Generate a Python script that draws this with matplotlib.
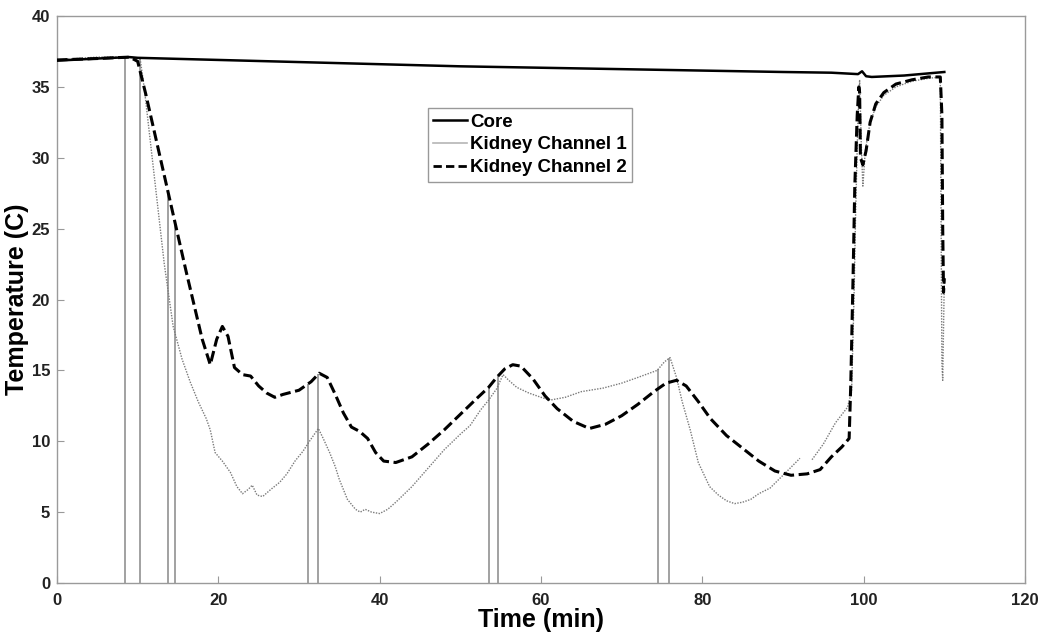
import numpy as np
import matplotlib
matplotlib.use("Agg")
import matplotlib.pyplot as plt
from matplotlib.lines import Line2D

# ---------------- data ----------------
core_t = [0, 5, 9, 10, 20, 30, 40, 50, 60, 70, 80, 90, 96, 99.3, 99.8, 100.3, 101, 105, 110]
core_v = [36.85, 37.0, 37.1, 37.05, 36.9, 36.75, 36.6, 36.45, 36.35, 36.25, 36.15, 36.05, 36.0,
          35.9, 36.1, 35.75, 35.7, 35.8, 36.05]

ch2_t = [0, 5, 9, 10, 11, 12, 13, 14, 15, 16, 17, 18, 19, 19.8, 20.5, 21.2, 22, 23, 24, 25, 26, 27,
         28, 30, 31.5, 32.5, 33.5, 34.5, 35.5, 36.5, 37.5, 38.5, 39.5, 40.5, 42, 44, 46, 48, 50, 52,
         53.5, 54.5, 55.5, 56.5, 57.5, 59, 60.5, 62, 64, 66, 68, 70, 72, 74, 75.5, 76.8, 78, 79.5,
         81, 83, 85, 87, 89, 91, 93, 94.6, 96, 97.3, 98.2, 98.4, 98.7, 98.9, 99.2, 99.4, 99.5, 99.6,
         99.9, 100.3, 100.8, 101.5, 102.5, 104, 106, 108, 109.5, 109.7, 109.8, 109.9, 110]
ch2_v = [36.9, 37.0, 37.1, 36.8, 34.5, 32.0, 29.5, 27.0, 24.5, 22.0, 19.6, 17.2, 15.4, 17.2, 18.1,
         17.4, 15.2, 14.7, 14.6, 13.9, 13.4, 13.1, 13.3, 13.6, 14.2, 14.8, 14.5, 13.3, 12.0, 11.0,
         10.7, 10.2, 9.2, 8.6, 8.5, 8.9, 9.8, 10.8, 11.9, 13.0, 13.8, 14.5, 15.1, 15.4, 15.3, 14.4,
         13.2, 12.3, 11.4, 10.9, 11.2, 11.8, 12.6, 13.5, 14.1, 14.3, 13.9, 12.8, 11.6, 10.4, 9.5,
         8.6, 7.9, 7.6, 7.7, 8.0, 8.9, 9.6, 10.2, 14.0, 22.0, 28.0, 33.0, 35.0, 34.6, 30.0, 29.5,
         30.5, 32.5, 33.8, 34.6, 35.2, 35.5, 35.7, 35.7, 33.0, 25.0, 20.5, 21.5]

ch1_t = [0, 5, 9, 10.3, 10.8, 11.5, 12.4, 13.3, 14.4, 15.5, 16.5, 17.5, 18.5, 19, 19.6, 20.5, 21.5,
         22.3, 23, 23.7, 24.2, 24.8, 25.5, 26.5, 27.6, 28.5, 29.5, 30.5, 31.3, 32.4, 33, 33.8, 34.5,
         35, 36, 37, 37.6, 38.2, 39, 40, 41, 42, 44, 46, 48, 50, 51.2, 52.5, 53.5, 54.5, 55.3, 56,
         57, 58.5, 60, 61.1, 63, 65, 67.7, 70, 72, 74.4, 75.3, 76, 76.8, 77.5, 78.5, 79.5, 80.9, 82,
         83, 84, 85, 86, 87, 88.4, 90, 92.1, 92.8, 93.6, 95, 96.5, 98, 98.5, 98.8, 99, 99.3, 99.5,
         99.7, 99.9, 100.2, 100.8, 101.5, 102.5, 104, 106, 108, 109.5, 109.6, 109.7, 109.8, 109.9,
         110]
ch1_v = [36.9, 37.1, 37.1, 37.0, 35.0, 31.5, 27.0, 22.5, 18.1, 15.8, 14.2, 12.8, 11.6, 10.8, 9.2,
         8.6, 7.8, 6.8, 6.3, 6.6, 6.9, 6.2, 6.1, 6.6, 7.1, 7.7, 8.6, 9.3, 10.0, 10.9, 10.2, 9.2, 8.2,
         7.3, 5.9, 5.2, 5.0, 5.2, 5.0, 4.9, 5.2, 5.7, 6.8, 8.1, 9.4, 10.5, 11.1, 12.2, 12.9, 13.7,
         14.7, 14.3, 13.8, 13.4, 13.1, 12.9, 13.1, 13.5, 13.75, 14.1, 14.5, 15.0, 15.6, 15.9, 14.5,
         12.8, 10.8, 8.5, 6.8, 6.2, 5.8, 5.6, 5.7, 5.9, 6.3, 6.7, 7.6, 8.8, np.nan, 8.7, 9.8, 11.3,
         12.4, 13.5, 20.0, 26.0, 33.0, 35.5, 31.0, 28.0, 30.5, 32.5, 33.6, 34.4, 35.0, 35.4, 35.6,
         35.7, 25.0, 15.5, 14.3, 18.0, 21.5]

# sensor dropout times (min)
dropouts = [8.4, 10.3, 13.8, 14.6, 31.1, 32.35, 53.55, 54.7, 74.5, 75.9]

x_ticks = [0, 20, 40, 60, 80, 100, 120]
y_ticks = [0, 5, 10, 15, 20, 25, 30, 35, 40]
legend_labels = ["Core", "Kidney Channel 1", "Kidney Channel 2"]

# ---------------- plot ----------------
plt.rcParams['font.family'] = ['Liberation Sans', 'DejaVu Sans']

fig = plt.figure(figsize=(10.5, 6.43), dpi=100)
ax = fig.add_axes([57/1050, 60/643, 968/1050, 567/643])

# dropout verticals reach up to the higher of the two kidney traces
ch1_arr = np.array(ch1_v, dtype=float)
ok = ~np.isnan(ch1_arr)
tops = np.maximum(np.interp(dropouts, np.array(ch1_t)[ok], ch1_arr[ok]),
                  np.interp(dropouts, ch2_t, ch2_v))
ax.vlines(dropouts, 0, tops, colors='#9a9a9a', linewidth=1.3, zorder=1)

ax.plot(ch1_t, ch1_v, color='#7a7a7a', linestyle=(0, (1, 1)), linewidth=1.0, zorder=2)
ax.plot(ch2_t, ch2_v, color='black', linestyle=(0, (3.5, 1.5)), linewidth=2.2, zorder=3)
ax.plot(core_t, core_v, color='black', linestyle='-', linewidth=1.8, zorder=4)

ax.set_xlim(0, 120)
ax.set_ylim(0, 40)
ax.set_xticks(x_ticks)
ax.set_yticks(y_ticks)
ax.tick_params(direction='in', length=5, color='#999999', labelsize=12)
ax.tick_params(axis='x', pad=7)
ax.tick_params(axis='y', pad=5)
for lab in ax.get_xticklabels() + ax.get_yticklabels():
    lab.set_fontweight('bold')
    lab.set_color('#222222')
for s in ax.spines.values():
    s.set_color('#9a9a9a')
    s.set_linewidth(1.0)

ax.set_xlabel("Time (min)", fontsize=18, fontweight='bold', labelpad=0)
ax.set_ylabel("Temperature (C)", fontsize=18, fontweight='bold', labelpad=2)

handles = [Line2D([], [], color='black', linewidth=1.8),
           Line2D([], [], color='#b5b5b5', linewidth=1.2),
           Line2D([], [], color='black', linewidth=2.0, linestyle=(0, (3, 1.5)))]
leg = ax.legend(handles, legend_labels, loc='upper left', bbox_to_anchor=(0.383, 0.838),
                fancybox=False, framealpha=1, edgecolor='#999999',
                prop={'weight': 'bold', 'size': 13.5}, handlelength=1.8,
                handletextpad=0.15, borderpad=0.3, labelspacing=0.3, borderaxespad=0)
leg.get_frame().set_linewidth(1.0)

fig.savefig("out.png", dpi=100)
